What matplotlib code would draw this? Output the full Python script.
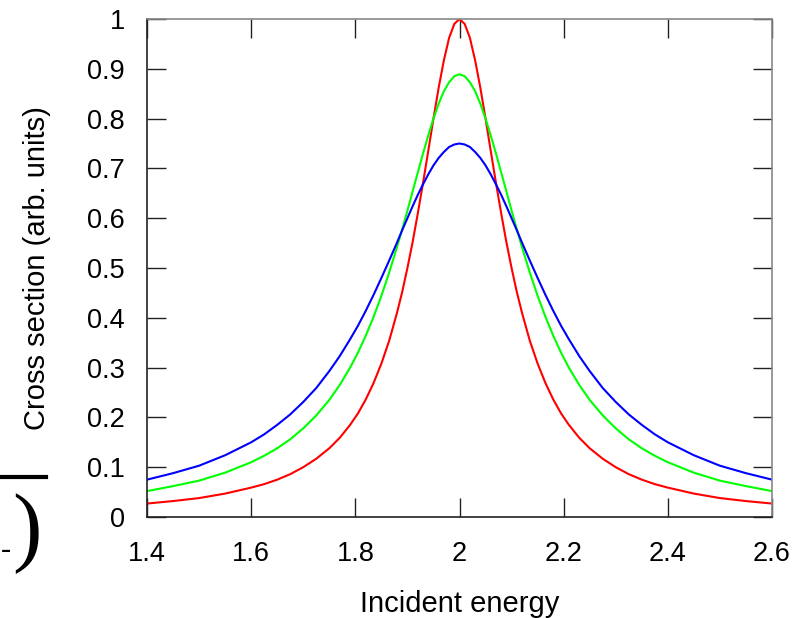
import matplotlib
matplotlib.use("Agg")
import matplotlib.pyplot as plt
from matplotlib.lines import Line2D

FONT = "Liberation Sans"

# incident energy samples (denser where the curves bend most)
energy = [1.400, 1.450, 1.500, 1.550, 1.600, 1.625, 1.650, 1.675, 1.700, 1.725,
          1.750, 1.770, 1.790, 1.805, 1.820, 1.835, 1.850, 1.865, 1.880, 1.890,
          1.900, 1.910, 1.920, 1.930, 1.940, 1.950, 1.960, 1.970, 1.980, 1.990,
          2.000,
          2.010, 2.020, 2.030, 2.040, 2.050, 2.060, 2.070, 2.080, 2.090, 2.100,
          2.110, 2.120, 2.135, 2.150, 2.165, 2.180, 2.195, 2.210, 2.230, 2.250,
          2.275, 2.300, 2.325, 2.350, 2.375, 2.400, 2.450, 2.500, 2.550, 2.600]

sigma_red = [0.027, 0.032, 0.038, 0.047, 0.059, 0.066, 0.075, 0.086, 0.100, 0.117,
             0.138, 0.159, 0.185, 0.208, 0.236, 0.269, 0.308, 0.354, 0.410, 0.452,
             0.500, 0.552, 0.610, 0.671, 0.735, 0.800, 0.862, 0.917, 0.962, 0.990,
             1.000,
             0.990, 0.962, 0.917, 0.862, 0.800, 0.735, 0.671, 0.610, 0.552, 0.500,
             0.452, 0.410, 0.354, 0.308, 0.269, 0.236, 0.208, 0.185, 0.159, 0.138,
             0.117, 0.100, 0.086, 0.075, 0.066, 0.059, 0.047, 0.038, 0.032, 0.027]

sigma_green = [0.052, 0.062, 0.073, 0.089, 0.110, 0.123, 0.138, 0.156, 0.178, 0.204,
               0.235, 0.265, 0.300, 0.330, 0.364, 0.402, 0.444, 0.491, 0.542, 0.578,
               0.615, 0.654, 0.692, 0.730, 0.766, 0.800, 0.830, 0.855, 0.873, 0.885,
               0.889,
               0.885, 0.873, 0.855, 0.830, 0.800, 0.766, 0.730, 0.692, 0.654, 0.615,
               0.578, 0.542, 0.491, 0.444, 0.402, 0.364, 0.330, 0.300, 0.265, 0.235,
               0.204, 0.178, 0.156, 0.138, 0.123, 0.110, 0.089, 0.073, 0.062, 0.052]

sigma_blue = [0.075, 0.088, 0.103, 0.124, 0.150, 0.166, 0.185, 0.206, 0.231, 0.259,
              0.293, 0.323, 0.357, 0.384, 0.414, 0.446, 0.480, 0.515, 0.551, 0.576,
              0.600, 0.624, 0.647, 0.668, 0.688, 0.706, 0.721, 0.733, 0.743, 0.748,
              0.750,
              0.748, 0.743, 0.733, 0.721, 0.706, 0.688, 0.668, 0.647, 0.624, 0.600,
              0.576, 0.551, 0.515, 0.480, 0.446, 0.414, 0.384, 0.357, 0.323, 0.293,
              0.259, 0.231, 0.206, 0.185, 0.166, 0.150, 0.124, 0.103, 0.088, 0.075]

x_ticks = [1.4, 1.6, 1.8, 2.0, 2.2, 2.4, 2.6]
x_labels = ["1.4", "1.6", "1.8", "2", "2.2", "2.4", "2.6"]
y_ticks = [0, 0.1, 0.2, 0.3, 0.4, 0.5, 0.6, 0.7, 0.8, 0.9, 1.0]
y_labels = ["0", "0.1", "0.2", "0.3", "0.4", "0.5", "0.6", "0.7", "0.8", "0.9", "1"]

fig = plt.figure(figsize=(8.11, 6.18), dpi=100)
ax = fig.add_axes([147 / 811, 1 - 517 / 618, (772 - 147) / 811, (517 - 19) / 618])

ax.plot(energy, sigma_red, color="#ff0000", lw=1.5)
ax.plot(energy, sigma_green, color="#00ff00", lw=1.5)
ax.plot(energy, sigma_blue, color="#0000ff", lw=1.5)

ax.set_xlim(1.4, 2.6)
ax.set_ylim(0, 1)
ax.set_xticks(x_ticks)
ax.set_xticklabels(x_labels, fontfamily=FONT, fontsize=19.5)
ax.set_yticks(y_ticks)
ax.set_yticklabels(y_labels, fontfamily=FONT, fontsize=19.5)
ax.tick_params(direction="in", length=14, width=1, top=True, right=True, color="#222222")
ax.tick_params(axis="x", pad=17)
ax.tick_params(axis="y", pad=16)
for s in ("left", "bottom"):
    ax.spines[s].set_color("#222222")
for s in ("top", "right"):
    ax.spines[s].set_color("#888888")
for s in ax.spines.values():
    s.set_linewidth(1.2)

ax.set_xlabel("Incident energy", fontfamily=FONT, fontsize=21, labelpad=17)
ax.set_ylabel("Cross section (arb. units)", fontfamily=FONT, fontsize=21, labelpad=26)

# cropped fragment of an equation at the left edge
fig.add_artist(Line2D([0, 46 / 811], [1 - 477 / 618, 1 - 477 / 618], color="black", lw=3))
fig.text(42 / 811, 1 - 534 / 618, ")", fontfamily="Liberation Serif", fontsize=64,
         ha="right", va="center")
fig.text(0.5 / 811, 1 - 551 / 618, "-", fontfamily="Liberation Serif", fontsize=22,
         ha="left", va="center")

fig.savefig("out.png", dpi=100)
